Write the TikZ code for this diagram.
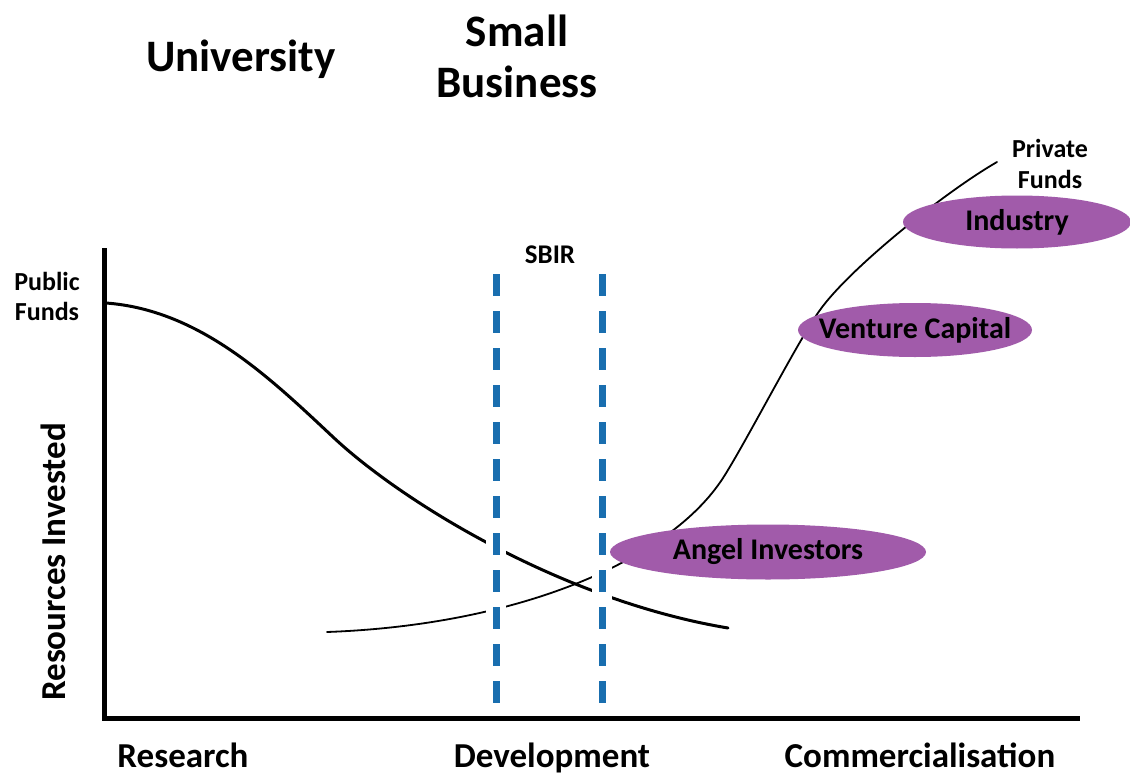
\documentclass[tikz,border=0pt]{standalone}
\usepackage{fontspec}
\setmainfont{Carlito}
\usetikzlibrary{shapes.geometric,calc}
\definecolor{fundpurple}{RGB}{161,91,170}
\definecolor{sbirblue}{RGB}{25,110,175}
\tikzset{
  lbl/.style={font=\bfseries\fontsize{#1}{#1}\selectfont, inner sep=0pt},
  funder/.style={ellipse, fill=fundpurple, draw=none, inner sep=0pt,
    font=\bfseries\fontsize{30}{30}\selectfont},
  axisline/.style={line width=5pt, line join=miter},
  pubcurve/.style={line width=3pt, line cap=round},
  privcurve/.style={line width=1.8pt, line cap=round},
  sbirline/.style={sbirblue, line width=7pt, dash pattern=on 22pt off 15pt},
  sbirgap/.style={white, line width=20pt}
}
\begin{document}
\begin{tikzpicture}[x=1pt,y=-1pt]
\useasboundingbox[fill=white] (0,0) rectangle (1130,776);

% titles
\node[lbl=45, anchor=base] (univ) at (241,72) {University};
\node[lbl=45, anchor=base] (small) at (517,47) {Small};
\node[lbl=45, anchor=base] (business) at (517,98) {Business};

% axes
\coordinate (ytop) at (104,248);
\coordinate (origin) at (104,718);
\coordinate (xend) at (1080,718);
\draw[axisline] (ytop) -- (origin) -- (xend);

% curves
\coordinate (pubstart) at (106,303);
\coordinate (pubmid) at (333,437);
\coordinate (pubend) at (728,628);
\draw[pubcurve] (pubstart) .. controls (200,310) and (270,378) .. (pubmid)
  .. controls (400,500) and (560,600) .. (pubend);
\coordinate (privstart) at (327,632);
\coordinate (privm1) at (723,478);
\coordinate (privm2) at (820,310);
\coordinate (privend) at (997,162);
\draw[privcurve] (privstart) .. controls (520,625) and (670,560) .. (privm1)
  .. controls (745,444) and (800,337) .. (privm2)
  .. controls (850,268) and (945,192) .. (privend);

% SBIR lines
\coordinate (s1top) at (496,274);
\coordinate (s1bot) at (496,716);
\coordinate (s2top) at (602,274);
\coordinate (s2bot) at (602,716);
\draw[sbirgap] (s1top) -- ($(s1bot)+(0,-6)$);
\draw[sbirgap] (s2top) -- ($(s2bot)+(0,-6)$);
\draw[sbirline] (s1top) -- (s1bot);
\draw[sbirline] (s2top) -- (s2bot);
\node[lbl=27, anchor=base] (sbir) at (550,263) {SBIR};

% funders
\node[funder, minimum width=316pt, minimum height=55pt] (angel) at (768,552) {\makebox[0pt]{Angel Investors}};
\node[funder, minimum width=234pt, minimum height=54pt] (venture) at (915,330) {\makebox[0pt]{Venture Capital}};
\node[funder, minimum width=228pt, minimum height=53pt] (industry) at (1017,222) {\makebox[0pt]{Industry}};

% fund labels
\node[lbl=26, anchor=base] (public1) at (47,290) {Public};
\node[lbl=26, anchor=base] (public2) at (47,320) {Funds};
\node[lbl=26, anchor=base] (private1) at (1050,157) {Private};
\node[lbl=26, anchor=base] (private2) at (1050,188) {Funds};

% axis labels
\node[lbl=35, anchor=base, rotate=90] (resources) at (65,562) {Resources Invested};
\node[lbl=35, anchor=base] (research) at (183,767) {Research};
\node[lbl=35, anchor=base] (development) at (552,767) {Development};
\node[lbl=35, anchor=base] (commerce) at (920,767) {Commercialisation};
\end{tikzpicture}
\end{document}
